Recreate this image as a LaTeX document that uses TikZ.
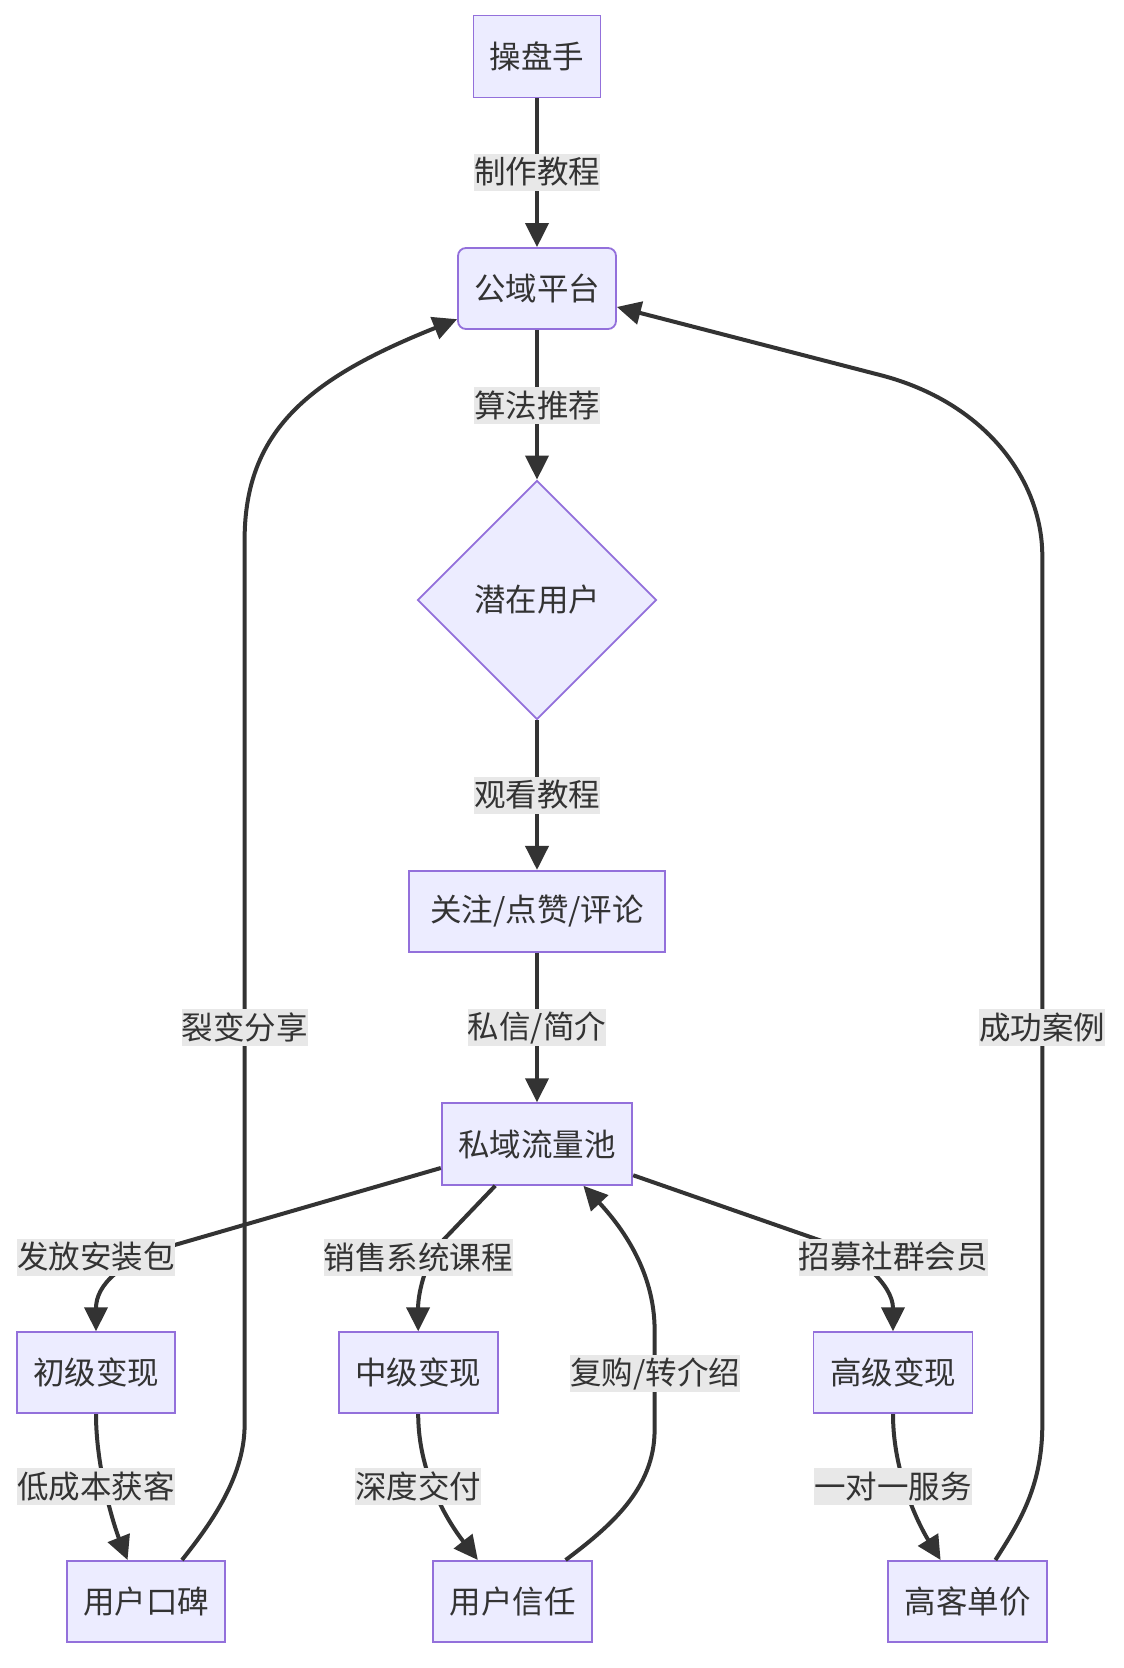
\documentclass[tikz,border=0pt]{standalone}
\usepackage{fontspec}
\setmainfont{Noto Sans CJK SC}
\usetikzlibrary{arrows.meta,shapes.geometric,calc}
\definecolor{nodefill}{HTML}{ECECFF}
\definecolor{nodeline}{HTML}{9370DB}
\definecolor{edgecol}{HTML}{333333}
\definecolor{lblbg}{HTML}{E8E8E8}
\definecolor{txtcol}{HTML}{333333}
\begin{document}
\begin{tikzpicture}[x=1pt,y=1pt,
  txtfont/.style={font=\fontsize{31.5}{38}\selectfont, text=txtcol},
  box/.style={rectangle, draw=nodeline, fill=nodefill, line width=1.8pt, minimum height=81pt, inner sep=0pt, txtfont},
  rbox/.style={box, rounded corners=8pt},
  dia/.style={diamond, draw=nodeline, fill=nodefill, line width=1.8pt, minimum width=239pt, minimum height=239pt, inner sep=0pt, txtfont},
  lbl/.style={rectangle, fill=lblbg, inner xsep=0pt, inner ysep=0pt, minimum height=37pt, txtfont},
  edge/.style={draw=edgecol, line width=4pt, -{Triangle[length=24pt,width=23pt]}},
]
\useasboundingbox (0,0) rectangle (1124,-1668);
\fill[white] (0,0) rectangle (1124,-1668);

% nodes
\node[box, minimum width=127pt, minimum height=82pt] (czs) at (537,-56.5) {操盘手};
\node[rbox, minimum width=158pt] (gy) at (537,-288.5) {公域平台};
\node[dia] (qz) at (537,-600) {潜在用户};
\node[box, minimum width=256pt] (gz) at (537,-911.3) {关注/点赞/评论};
\node[box, minimum width=190.6pt, minimum height=81.7pt] (sy) at (537,-1144) {私域流量池};
\node[box, minimum width=158.6pt] (cj) at (96,-1372.7) {初级变现};
\node[box, minimum width=159pt] (zj) at (418.2,-1372.7) {中级变现};
\node[box, minimum width=159pt] (gj) at (893,-1372.7) {高级变现};
\node[box, minimum width=158.6pt] (kb) at (146,-1601.4) {用户口碑};
\node[box, minimum width=158.8pt] (xr) at (512.6,-1601.4) {用户信任};
\node[box, minimum width=159pt] (dj) at (967.5,-1601.4) {高客单价};

% edges
\draw[edge] (czs) -- (gy);
\draw[edge] (gy) -- (qz);
\draw[edge] (qz) -- (gz);
\draw[edge] (gz) -- (sy);
\draw[edge] (sy.194.3) -- (176,-1244.6) .. controls (120,-1261) and (96,-1285) .. (cj.north);
\draw[edge] (sy.225.5) -- (443.3,-1240) .. controls (428,-1255.5) and (418,-1290) .. (zj.north);
\draw[edge] (sy.-18) -- (819,-1240) .. controls (859,-1254) and (893,-1285) .. (gj.north);
\draw[edge] (cj.south) .. controls (96,-1470) and (115,-1528.4) .. (kb.114.1);
\draw[edge] (zj.south) .. controls (418.2,-1478) and (452,-1527) .. (xr.130.1);
\draw[edge] (gj.south) .. controls (893,-1475) and (920,-1526.7) .. (dj.123.7);
\draw[edge] (xr.38.7) .. controls (608,-1528) and (654.6,-1490) .. (654.6,-1430)
   -- (654.6,-1330) .. controls (654.6,-1270) and (620,-1225) .. (sy.-42.7);
\draw[edge] (kb.49.1) .. controls (206,-1529.5) and (244.6,-1480) .. (244.6,-1425)
   -- (244.6,-540) .. controls (244.6,-430) and (310,-378) .. (gy.201.7);
\draw[edge] (dj.56.7) .. controls (1016,-1527) and (1042.3,-1490) .. (1042.3,-1425)
   -- (1042.3,-556) .. controls (1042.3,-480) and (985,-402) .. (880,-375) -- (gy.-13.3);

% edge labels
\node[lbl] (l1) at (537,-172) {制作教程};
\node[lbl] (l2) at (537,-405) {算法推荐};
\node[lbl] (l3) at (537,-795) {观看教程};
\node[lbl] (l4) at (537,-1027.7) {私信/简介};
\node[lbl] (l5) at (244.6,-1027.7) {裂变分享};
\node[lbl] (l6) at (1042,-1027.7) {成功案例};
\node[lbl] (l7) at (96,-1257) {发放安装包};
\node[lbl] (l8) at (418,-1257) {销售系统课程};
\node[lbl] (l9) at (893,-1257) {招募社群会员};
\node[lbl] (l10) at (655.4,-1373.7) {复购/转介绍};
\node[lbl] (l11) at (96,-1486.5) {低成本获客};
\node[lbl] (l12) at (418.4,-1486.5) {深度交付};
\node[lbl] (l13) at (893,-1486.5) {一对一服务};
\end{tikzpicture}
\end{document}
